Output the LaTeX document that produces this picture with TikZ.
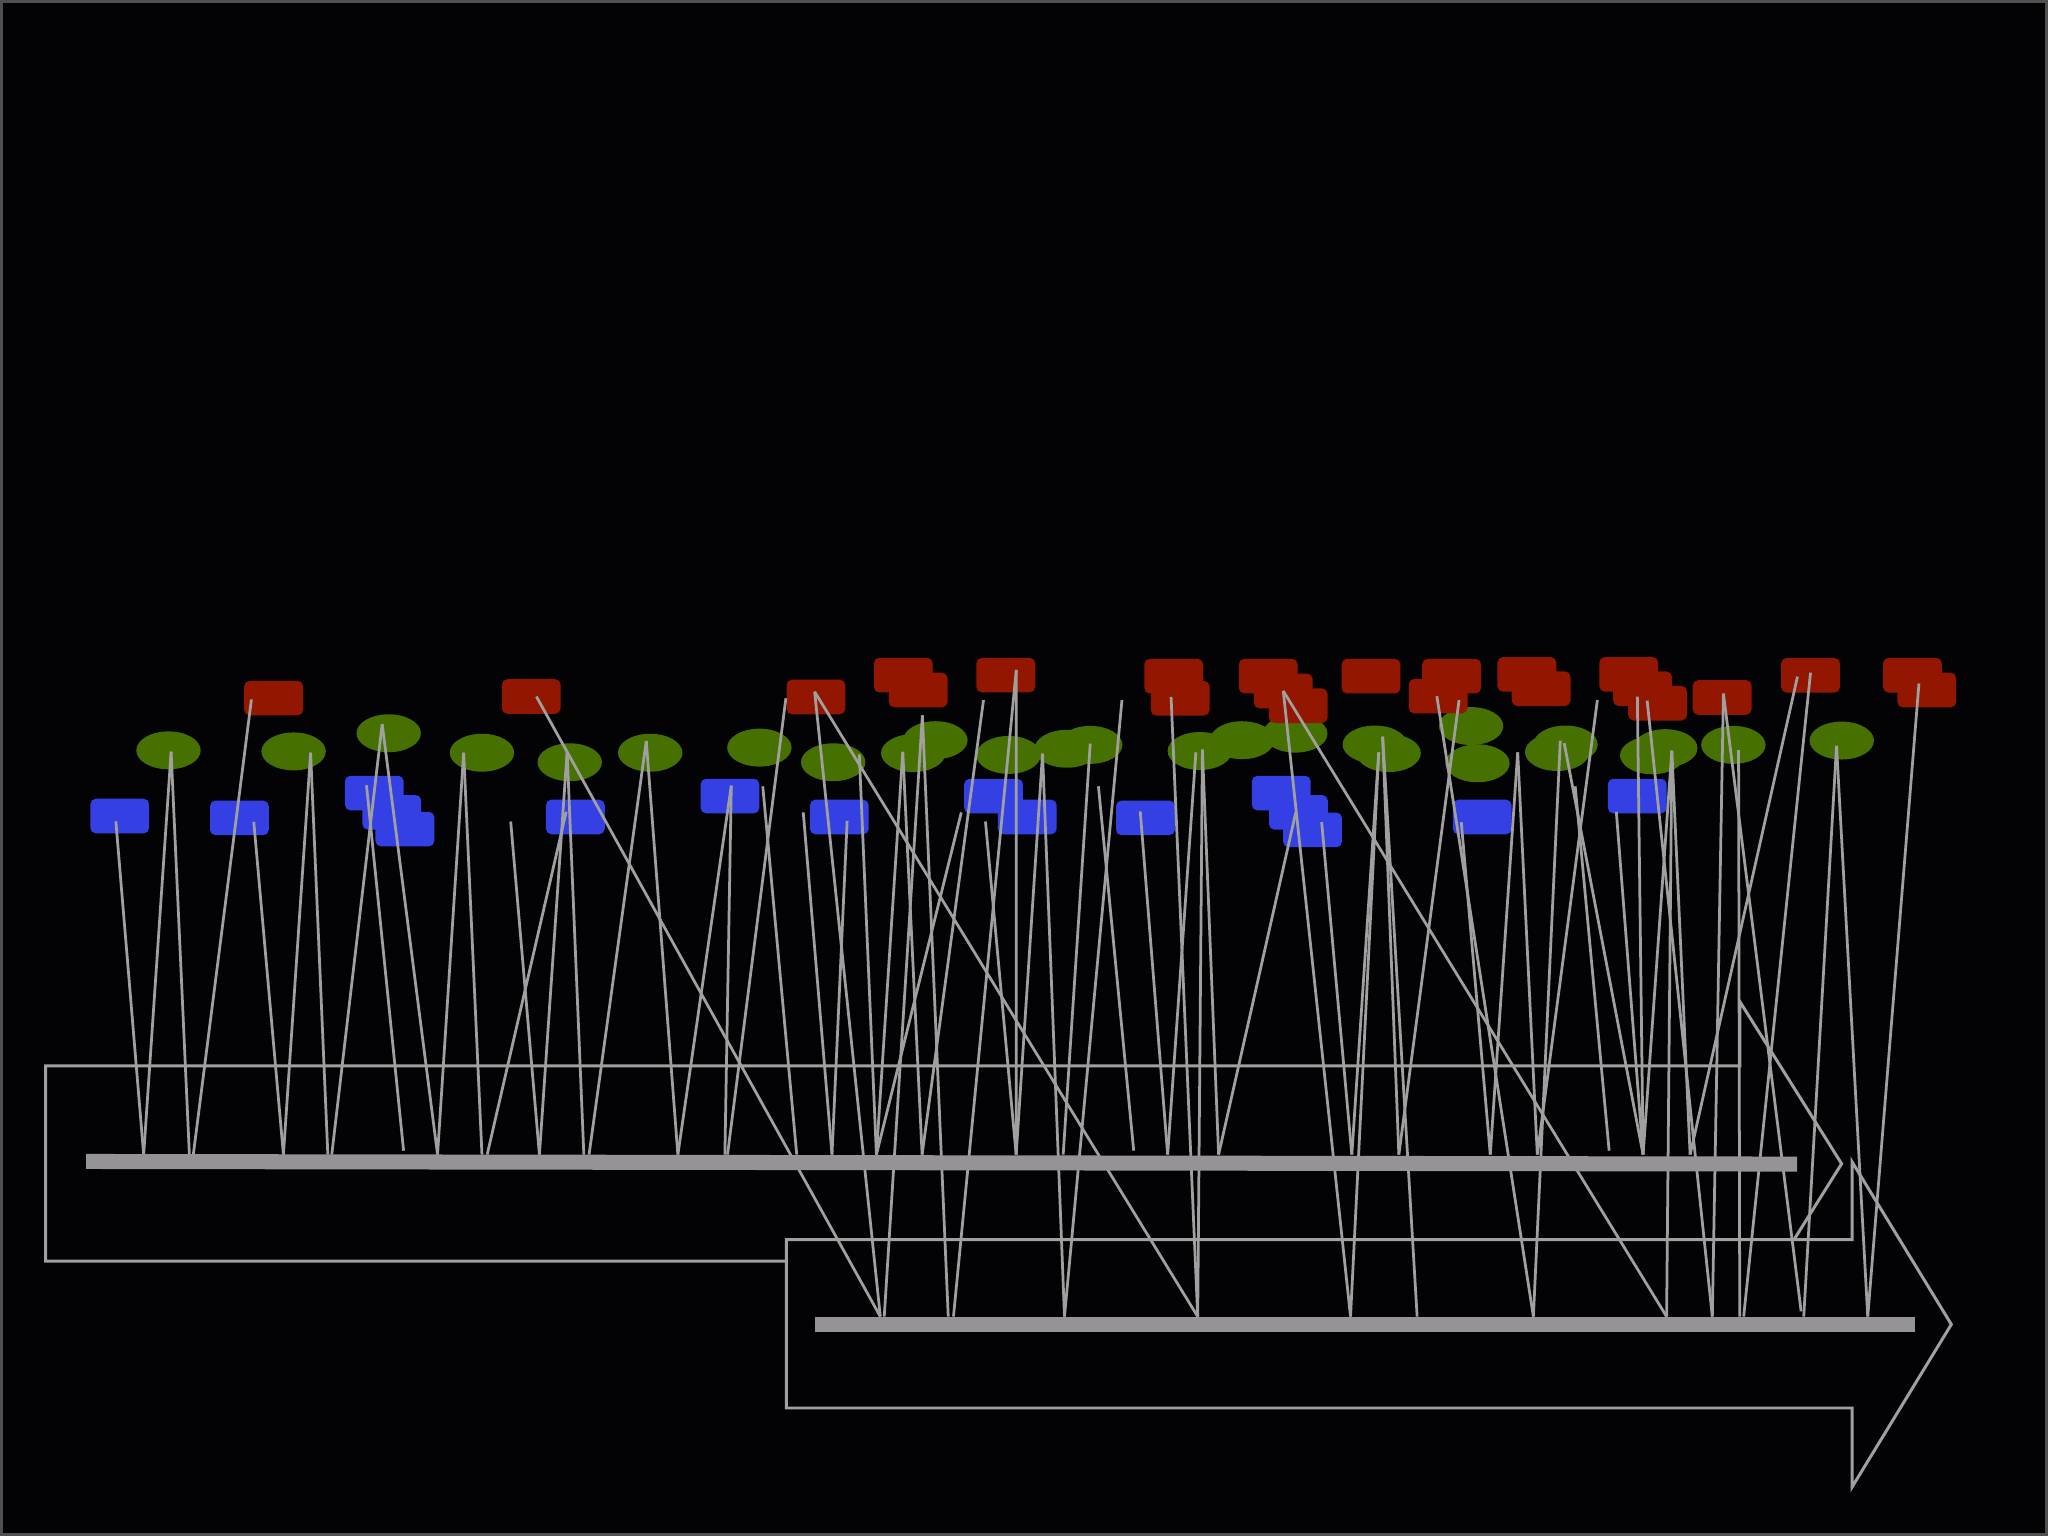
\documentclass[tikz,border=0pt]{standalone}
\usepackage{tikz}
\usetikzlibrary{shapes.geometric}
\definecolor{evred}{RGB}{147,22,0}
\definecolor{evgreen}{RGB}{70,113,0}
\definecolor{evblue}{RGB}{52,64,228}
\definecolor{linkgray}{RGB}{160,160,160}
\definecolor{bargray}{RGB}{149,147,150}
\definecolor{bg}{RGB}{3,3,5}
\definecolor{edgegray}{RGB}{80,80,80}
\tikzstyle{redbox}=[fill=evred,rounded corners=1.2pt,minimum width=0.45cm,minimum height=0.265cm,inner sep=0pt]
\tikzstyle{bluebox}=[fill=evblue,rounded corners=1.2pt,minimum width=0.45cm,minimum height=0.265cm,inner sep=0pt]
\tikzstyle{greendot}=[fill=evgreen,ellipse,minimum width=0.493cm,minimum height=0.29cm,inner sep=0pt]
\tikzstyle{link}=[draw=linkgray,line width=0.6pt]
\tikzstyle{outline}=[draw=linkgray,line width=0.65pt]
\begin{document}
\begin{tikzpicture}[x=0.01cm,y=-0.01cm]
  \useasboundingbox (0,0) rectangle (1568,1176);
  \fill[bg] (0,0) rectangle (1568,1176);
  \draw[edgegray,line width=0.6pt] (1,1) rectangle (1567,1175);
  % the two timeline arrows
  \draw[outline] (35,816) -- (1332,816) -- (1332,766.7) -- (1410,891) -- (1332,1015.3)
    -- (1332,965.5) -- (35,965.5) -- cycle;
  \filldraw[outline,fill=bg] (602,949) -- (1418,949) -- (1418,889.5) -- (1494,1014)
    -- (1418,1138.5) -- (1418,1078) -- (602,1078) -- cycle;
  % events
  \foreach \n/\x/\y in {g1/129/574.5, g2/224.8/575.3, g3/297.6/561.4, g4/369/576.3,
      g5/436.2/583.6, g6/497.8/576.3, g7/581.4/572.4, g8/637.9/583.6, g9/699.2/576.6,
      g10/716.2/566.7, g11/772.2/578, g12/816.7/573.3, g13/834.7/570.3, g14/918.6/575,
      g15/951/566.7, g16/991.7/561.7, g17/1052.6/570, g18/1063.2/576.6, g19/1126.3/555.9,
      g20/1131.2/584.4, g21/1192.2/575.8, g22/1198.6/570, g23/1265/578.3, g24/1275/572.8,
      g25/1327.1/570.3, g26/1410.1/567}
    \node[greendot] (\n) at (\x,\y) {};
  \foreach \n/\x/\y in {r1/209.5/534.5, r2/406.7/533.3, r3/624.7/533.6, r4/691.6/516.9,
      r5/703/528.3, r6/770.1/516.9, r7/898.6/517.7, r8/903.6/534.6, r9/971/517.7,
      r10/982.5/529, r11/993.9/540.3, r12/1049.7/517.7, r13/1111.4/517.7, r14/1101.1/533,
      r15/1169/516.3, r16/1179.9/527.3, r17/1247/516.3, r18/1257.6/527.3, r19/1269.1/538.4,
      r20/1318.5/534, r21/1386.2/517, r22/1464.2/517, r23/1475.2/528.3}
    \node[redbox] (\n) at (\x,\y) {};
  \foreach \n/\x/\y in {b1/91.7/624.8, b2/183.3/626.2, b3/286.6/607.2, b4/300/622,
      b5/310/634.8, b6/440.5/625.5, b7/558.9/609.5, b8/642.6/625.5, b9/760.7/609.5,
      b10/786.5/625.5, b11/877/626.2, b12/981/607.2, b13/994.1/622, b14/1004.9/635.4,
      b15/1134.8/625.5, b16/1253.5/609.5}
    \node[bluebox] (\n) at (\x,\y) {};
  % points on the bars and loose ends
  \foreach \x in {110,145,148,217,251,254,335,369,373,413,447,451,519,555,557,610,637,
      671,706,778,814,894,933,1035,1071,1141,1177,1258,1294}
    \coordinate (u\x) at (\x,884);
  \foreach \x in {309,868,1232}
    \coordinate (u\x) at (\x,881);
  \foreach \x in {674,677,726,730,815,917,1034,1085,1174,1276,1311,1332,1335,1381,1430}
    \coordinate (d\x) at (\x,1008);
  \coordinate (d1379) at (1379,1004);
  \foreach \n/\x/\y in {f1/391/629, f2/584/602, f3/615/622, f4/736/622, f5/753/536,
      f6/754.5/629, f7/841/602, f8/1162/576, f9/1223/536, f10/1206/602, f11/859/536}
    \coordinate (\n) at (\x,\y);
  % leaders
  \foreach \m/\dx/\dy/\e in {b1/-3/4/u110, g1/2/1/u110, g1/2/1/u145, r1/-17/1/u148,
      b2/11/3/u217, g2/13/1/u217, g2/13/1/u251, g3/-5/-7/u254, g3/-5/-7/u335,
      b3/-6/-6/u309, g4/-14/0/u335, g4/-14/0/u369, b6/-7/-4/u373, g5/-2/-8/u413,
      g5/-2/-8/u447, g6/-3/-9/u451, g6/-3/-9/u519, b7/1/-8/u519, b7/1/-8/u555,
      r3/-23/1/u557, b8/6/3/u637, g8/20/-6/u671, g9/-8/-1/u671, g9/-8/-1/u706,
      r6/8/-4/u778, g11/26/-1/u778, g13/0/-1/u814, b11/-4/-5/u894, g14/-3/1/u894,
      g14/2/-1/u933, b13/-2/0/u933, b14/7/-6/u1035, g17/3/6/u1035, g17/6/-6/u1071,
      r14/16/3/u1071, b15/-16/4/u1141, g22/-1/-1/u1258, b16/-16/12/u1258,
      r18/-4/6/u1258, g24/5/2/u1258, g24/5/2/u1294, r21/-10/1/u1294,
      r2/4/0/d674, r3/-1/-4/d674, r3/-1/-4/d917, g10/-10/-19/d677, g10/-10/-19/d726,
      r6/8/-4/d730, g11/26/-1/d815, r8/-7/-1/d917, g14/2/-1/d917, r10/0/0/d1034,
      r10/0/0/d1276, g17/3/6/d1034, g17/6/-6/d1085, r14/-1/0/d1174, g22/-4/-3/d1174,
      r19/-8/-2/d1311, g24/5/2/d1276, r20/1/-3/d1311, r20/1/-3/d1379, g25/4/4/d1332,
      r21/0/-2/d1335, g26/-4/4/d1381, g26/-4/4/d1430, r23/-6/-5/d1430}
    \draw[link] ([shift={(\dx,\dy)}]\m.center) -- (\e);
  \foreach \a/\e in {f1/u413, f2/u610, f3/u637, f4/u671, f5/u706, f6/u778, f7/u868,
      f8/u1141, f8/u1177, f9/u1177, f10/u1232, f11/d815}
    \draw[link] (\a) -- (\e);
  % bars
  \fill[bargray] (66,883.5) -- (1376,885.5) -- (1376,897) -- (66,895) -- cycle;
  \fill[bargray] (624,1008) rectangle (1466,1020);
\end{tikzpicture}
\end{document}
